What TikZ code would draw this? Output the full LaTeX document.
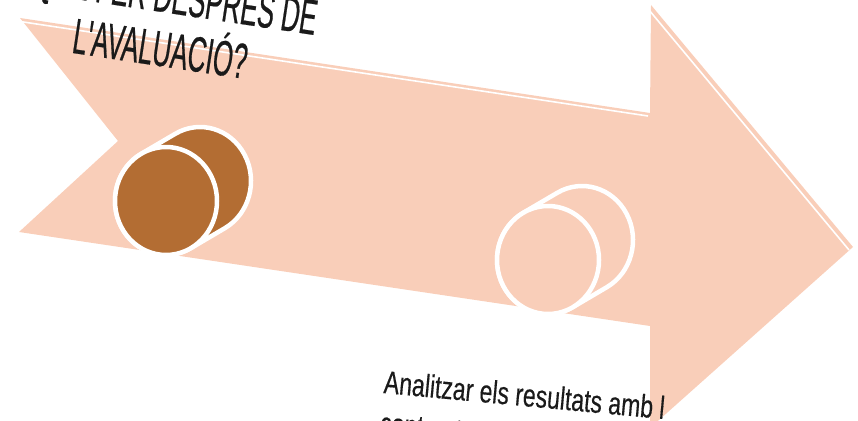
\documentclass[tikz,border=0pt]{standalone}
\usepackage{fontspec}
\newfontfamily\titlefont[FakeStretch=0.51, FakeBold=0.4]{Liberation Sans}
\newfontfamily\notefont[FakeStretch=0.72, FakeBold=0.3]{Liberation Sans}
\definecolor{peach}{HTML}{F9CEB9}
\definecolor{rust}{HTML}{B36D33}
\definecolor{ink}{HTML}{1A1A1A}
\tikzset{
    pics/drum/.style={code={
        \path[rim, fill=#1] (24.8,47.2) -- (58.8,27.2)
            arc[start angle=60.9, end angle=-119.1, x radius=51, y radius=54]
            -- (-24.8,-47.2)
            arc[start angle=-119.1, end angle=-299.1, x radius=51, y radius=54] -- cycle;
        \path[rim, fill=#1] (0,0) ellipse[x radius=51, y radius=54];
    }}
}

\begin{document}
\begin{tikzpicture}[x=1pt, y=-1pt,
    rim/.style={draw=white, line width=4.5pt, line join=round},
    gloss/.style={draw=white, line width=1.6pt},
    heading/.style={text=ink, font=\titlefont\fontsize{50}{38}\selectfont, align=center, rotate=-8.6, inner sep=0pt},
    note/.style={text=ink, font=\notefont\fontsize{32}{35}\selectfont, anchor=base west, rotate=-5.3, inner sep=0pt}
]
    \useasboundingbox (0,0) rectangle (858,420);
    \clip (0,0) rectangle (858,420);

    % big arrow
    \fill[peach] (20,18) -- (650,113) -- (651,5) -- (853,247) -- (650,428)
        -- (650,326) -- (19,232) -- (118,141) -- cycle;
    \draw[gloss] (20,21.5) -- (648,116);
    \draw[gloss] (649,10) -- (849,250);

    % drums
    \pic at (166,201) {drum=rust};
    \pic at (548,260) {drum=peach};

    % texts
    \node[heading] (title) at (165,18) {¿QUÈ FER DESPRÉS DE\\L'AVALUACIÓ?};
    \node[note] (step1) at (383,393) {Analitzar els resultats amb l};
    \node[note] (step2) at (379,434) {contrastar-los};
\end{tikzpicture}
\end{document}
